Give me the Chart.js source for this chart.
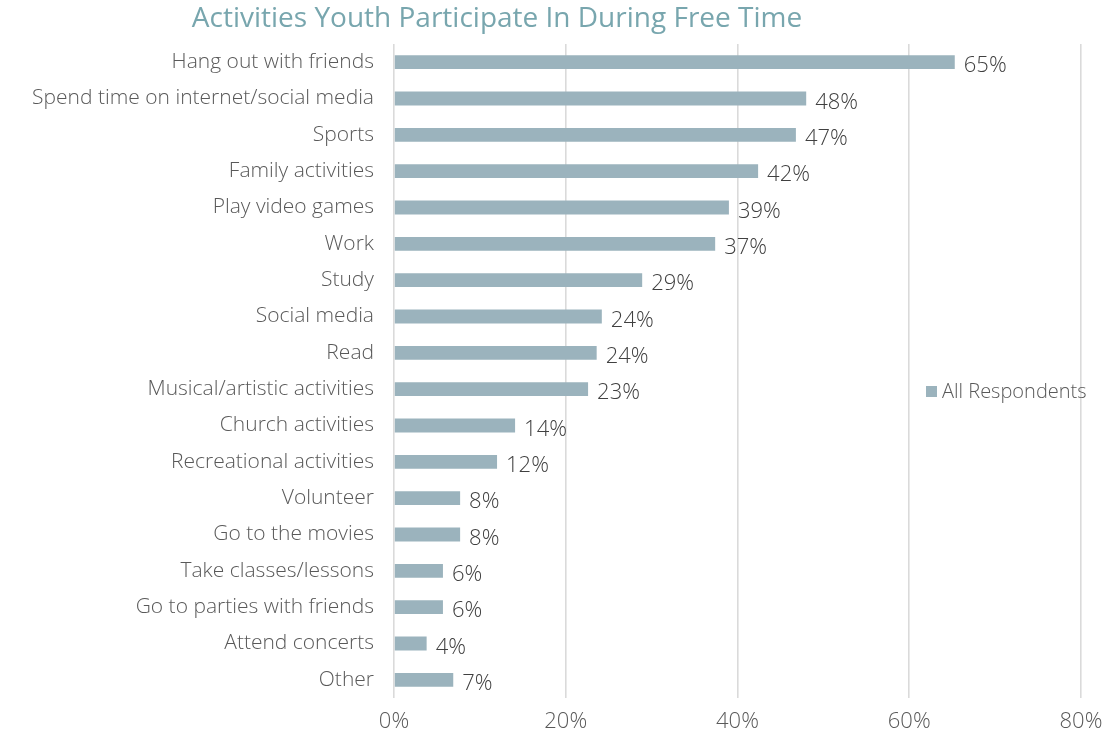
<!DOCTYPE html>
<html>
<head>
<meta charset="utf-8">
<script src="https://cdn.jsdelivr.net/npm/chart.js@4"></script>
<style>
  html, body { margin: 0; padding: 0; background: #fff; }
  #wrap { width: 1108px; height: 741px; }
</style>
</head>
<body>
<div id="wrap"><canvas id="myChart"></canvas></div>
<script>
const activities = [
  'Hang out with friends',
  'Spend time on internet/social media',
  'Sports',
  'Family activities',
  'Play video games',
  'Work',
  'Study',
  'Social media',
  'Read',
  'Musical/artistic activities',
  'Church activities',
  'Recreational activities',
  'Volunteer',
  'Go to the movies',
  'Take classes/lessons',
  'Go to parties with friends',
  'Attend concerts',
  'Other'
];
const respondents = [65.3, 48, 46.8, 42.4, 39, 37.4, 28.9, 24.2, 23.6, 22.6, 14.1, 12, 7.7, 7.7, 5.7, 5.7, 3.8, 6.9];
const xTicks = [0, 20, 40, 60, 80];

const fontFam = "'Open Sans', Lato, 'DejaVu Sans', sans-serif";

const ctx = document.getElementById('myChart');

// title, legend and value labels drawn by hand
const extras = {
  id: 'extras',
  afterDatasetsDraw(chart) {
    const c = chart.ctx;
    const meta = chart.getDatasetMeta(0);
    c.save();
    c.font = "300 22px " + fontFam;
    c.fillStyle = '#404040';
    c.textBaseline = 'middle';
    c.textAlign = 'left';
    meta.data.forEach((bar, i) => {
      c.fillText(Math.round(respondents[i]) + '%', bar.x + 9, bar.y + 4);
    });

    // title
    c.font = "28px 'Open Sans', Lato, sans-serif";
    c.fillStyle = '#78a6ae';
    c.textAlign = 'center';
    c.fillText('Activities Youth Participate In During Free Time', 497, 19);

    // legend
    c.fillStyle = '#9bb3bd';
    c.fillRect(926, 386, 11, 11);
    c.font = "300 20px " + fontFam;
    c.fillStyle = '#595959';
    c.textAlign = 'left';
    c.fillText(chart.data.datasets[0].label, 942, 392);
    c.restore();
  }
};

new Chart(ctx, {
  type: 'bar',
  data: {
    labels: activities,
    datasets: [{
      label: 'All Respondents',
      data: respondents,
      backgroundColor: '#9bb3bd',
      borderWidth: 0,
      categoryPercentage: 1,
      barPercentage: 0.38
    }]
  },
  options: {
    indexAxis: 'y',
    responsive: true,
    maintainAspectRatio: false,
    animation: false,
    layout: { padding: { top: 44, right: 27, left: 0, bottom: 0 } },
    plugins: {
      legend: { display: false },
      title: { display: false },
      tooltip: { enabled: false }
    },
    scales: {
      x: {
        min: 0,
        max: 80,
        afterBuildTicks(scale) {
          scale.ticks = xTicks.map(v => ({ value: v }));
        },
        afterFit(scale) {
          scale.height = 43;
          scale.paddingLeft = 0;
          scale.paddingRight = 0;
        },
        grid: { color: '#dadada', lineWidth: 1.6, drawTicks: false },
        border: { display: false },
        ticks: {
          padding: 11,
          color: '#595959',
          font: { family: fontFam, size: 22, weight: 300 },
          callback: v => v + '%'
        }
      },
      y: {
        afterFit(scale) { scale.width = 394; },
        grid: { display: false, drawTicks: false },
        border: { display: false },
        ticks: {
          padding: 20,
          autoSkip: false,
          color: '#595959',
          font: { family: fontFam, size: 21, weight: 300 }
        }
      }
    }
  },
  plugins: [extras]
});
</script>
</body>
</html>
